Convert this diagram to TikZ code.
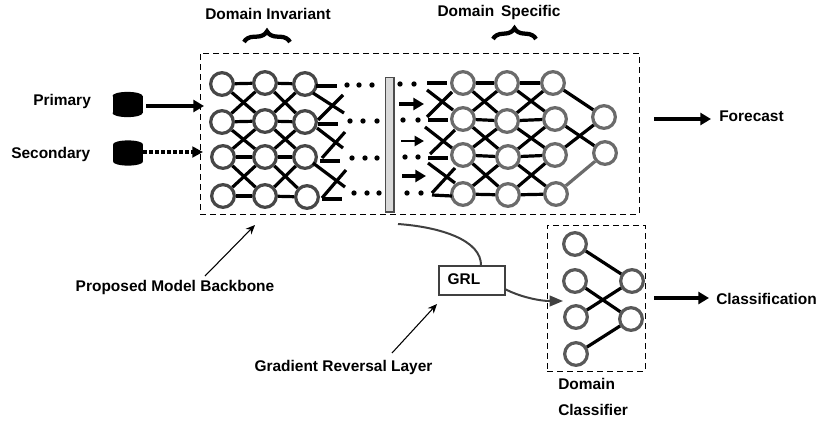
\documentclass[tikz,border=0pt]{standalone}
\usepackage{fontspec}
\setmainfont{Liberation Sans}
\usetikzlibrary{shapes.geometric,arrows.meta,decorations.pathreplacing}
\tikzset{
 lbl/.style={font=\fontsize{11.6}{14}\selectfont\bfseries,text=black,inner sep=0pt},
 unitL/.style={circle,draw=black!72,fill=white,line width=2.4pt,minimum size=17pt,inner sep=0pt},
 unitR/.style={circle,draw=black!58,fill=white,line width=2.4pt,minimum size=17pt,inner sep=0pt},
 unitC/.style={circle,draw=black!65,fill=white,line width=2.4pt,minimum size=17pt,inner sep=0pt},
 edge/.style={draw=black,line width=2.4pt},
 dashbox/.style={draw=black,line width=0.7pt,dash pattern=on 4.5pt off 3pt},
 dotl/.style={circle,fill=black,minimum size=4pt,inner sep=0pt},
 flow/.style={draw=black,line width=2.6pt,-{Triangle[length=8pt,width=9pt]}},
 flowthin/.style={draw=black,line width=1.7pt,-{Triangle[length=7pt,width=7.5pt]}},
 leader/.style={draw=black,line width=0.8pt,-{Stealth[length=7pt,width=6pt]}},
 curveline/.style={draw=black!75,line width=1.5pt},
 store/.style={rectangle,fill=black,inner sep=0pt,minimum width=22.5pt,minimum height=12.5pt},
 storecap/.style={ellipse,fill=black,inner sep=0pt,minimum width=22.5pt,minimum height=6pt},
 bracebar/.style={draw=black,line width=3.2pt},
}
\newcommand{\stub}[4]{\coordinate (p) at (#1,#2); \coordinate (q) at (#3,#4); \draw[edge] (p) -- (q);}
\begin{document}
\begin{tikzpicture}[x=0.75pt,y=-0.75pt]
\useasboundingbox (0,0) rectangle (817,422);
% boxes
\node[dashbox,minimum width=329.25pt,minimum height=120.75pt,inner sep=0pt] (main) at (419.5,133.5) {};
\node[dashbox,minimum width=73.5pt,minimum height=109.5pt,inner sep=0pt] (clsbox) at (596,298) {};
% backbone nodes
\foreach \n/\x/\y in {a0/222/84,a1/222/122,a2/223/157,a3/223/196,
 b0/265/83,b1/265/121,b2/265/157,b3/265/196,
 c0/305/84,c1/305/122,c2/305/157,c3/307/197}
 \node[unitL] (\n) at (\x,\y) {};
\foreach \n/\x/\y in {d0/463/83,d1/463/119,d2/463/155,d3/463/194,
 e0/507/83,e1/507/121,e2/508/157,e3/508/195,
 f0/553/83,f1/555/119,f2/555/155,f3/556/194,
 g0/604/117,g1/605/153}
 \node[unitR] (\n) at (\x,\y) {};
\foreach \n/\x/\y in {h0/575/244,h1/575/281,h2/576/317,h3/576/354,i0/632/281,i1/631/319}
 \node[unitC] (\n) at (\x,\y) {};
% edges
\foreach \u/\v in {a/b,b/c,d/e,e/f}{
 \draw[edge] (\u0)--(\v0); \draw[edge] (\u1)--(\v1); \draw[edge] (\u2)--(\v2); \draw[edge] (\u3)--(\v3);
 \draw[edge] (\u0)--(\v1); \draw[edge] (\u1)--(\v0);
 \draw[edge] (\u1)--(\v2); \draw[edge] (\u2)--(\v1);
 \draw[edge] (\u2)--(\v3); \draw[edge] (\u3)--(\v2);
}
\draw[edge] (f0)--(g0); \draw[edge] (f1)--(g1); \draw[edge] (f2)--(g0);
\draw[edge,draw=black!58] (f3)--(g1);
\draw[edge] (h0)--(i0); \draw[edge] (h1)--(i1); \draw[edge] (h2)--(i0); \draw[edge] (h3)--(i1);
% stubs after the backbone
\stub{316}{86}{337}{86}
\stub{313}{93}{344}{113}
\stub{318}{120}{343}{95}
\stub{318}{124}{338}{124}
\stub{317}{128}{343}{148}
\stub{322}{158}{345}{132}
\stub{320}{161}{340}{161}
\stub{313}{163}{345}{187}
\stub{322}{198}{346}{170}
\stub{322}{199}{342}{199}
\stub{427}{83}{447}{83}
\stub{427}{90}{453}{110}
\stub{427}{117}{452}{92}
\stub{428}{120}{448}{120}
\stub{425}{127}{452}{148}
\stub{430}{154}{455}{130}
\stub{428}{158}{448}{158}
\stub{428}{163}{455}{183}
\stub{432}{193}{455}{168}
\stub{432}{195}{452}{196}
% dotted gaps
\foreach \x/\y in {347/85,359/85,372/85,400/84,414/84,
 350/121,363/121,377/121,403/120,418/120,
 352/158,365/158,377/158,405/157,418/157,
 354/193,367/193,379/193,407/193,421/193}
 \node[dotl] at (\x,\y) {};
% bar
\node[draw=black!70,fill=black!15,line width=1pt,minimum width=6.5pt,minimum height=101pt,inner sep=0pt] (bar) at (389.5,144.5) {};
% flow arrows in gap
\coordinate (ga) at (399,104); \coordinate (gb) at (424,104); \draw[flow] (ga)--(gb);
\coordinate (gc) at (401,141); \coordinate (gd) at (424,141); \draw[flowthin] (gc)--(gd);
\coordinate (ge) at (402,176); \coordinate (gf) at (426,176); \draw[flow] (ge)--(gf);
% stores
\node[store] (s1) at (127.5,104.5) {};
\node[storecap] at (s1.north) {};
\node[storecap] at (s1.south) {};
\node[store] (s2) at (128,153) {};
\node[storecap] at (s2.north) {};
\node[storecap] at (s2.south) {};
\coordinate (m1) at (204,106);
\coordinate (m2) at (203,152);
\coordinate (n1) at (146,106);
\draw[flow] (n1) -- (m1);
\draw[draw=black,line width=2.6pt,dash pattern=on 3pt off 1.5pt,-{Triangle[length=8pt,width=8pt]}] (s2.east |- m2) -- (m2);
% labels
\node[lbl,anchor=west] (tp) at (33,101) {Primary};
\node[lbl,anchor=west] (ts) at (11,154) {Secondary};
\node[lbl] (tdi) at (268,14) {Domain Invariant};
\node[lbl] (tds) at (499,12) {Domain\, Specific};
\node[lbl,anchor=west] (tf) at (719,116) {Forecast};
\node[lbl,anchor=west] (tc) at (716,299) {Classification};
\node[lbl] (tb) at (175,287) {Proposed Model Backbone};
\node[lbl] (tg) at (343.5,367) {Gradient Reversal Layer};
\node[lbl,anchor=west] (t1) at (558,384) {Domain};
\node[lbl,anchor=west] (t2) at (558,410) {Classifier};
% braces
\draw[bracebar,decorate,decoration={brace,amplitude=8pt}] (244,42) -- (290,42);
\draw[bracebar,decorate,decoration={brace,amplitude=8pt}] (493,39) -- (536,39);
% GRL
\node[draw=black!75,fill=white,line width=1.1pt,minimum width=49.5pt,minimum height=21.75pt,inner sep=0pt] (grl) at (472,280.5) {};
\node[lbl] (grlt) at (464,279) {GRL};
\coordinate (from) at (398,224);
\draw[curveline] (from) .. controls (440,227) and (482,240) .. (481,266);
\coordinate (into) at (563,301);
\coordinate (outg) at (505,289);
\draw[curveline,-{Triangle[length=10pt,width=8pt]}] (outg) .. controls (518,296) and (538,301) .. (into);
% leaders and outputs
\coordinate (lb0) at (205,276); \coordinate (lb1) at (255,225);
\draw[leader] (lb0)--(lb1);
\coordinate (lg0) at (392,353); \coordinate (lg1) at (437,304);
\draw[leader] (lg0)--(lg1);
\coordinate (of0) at (654,119); \coordinate (of1) at (711,119);
\draw[flow] (of0)--(of1);
\coordinate (oc0) at (654,298); \coordinate (oc1) at (709,298);
\draw[flow] (oc0)--(oc1);
\end{tikzpicture}
\end{document}
